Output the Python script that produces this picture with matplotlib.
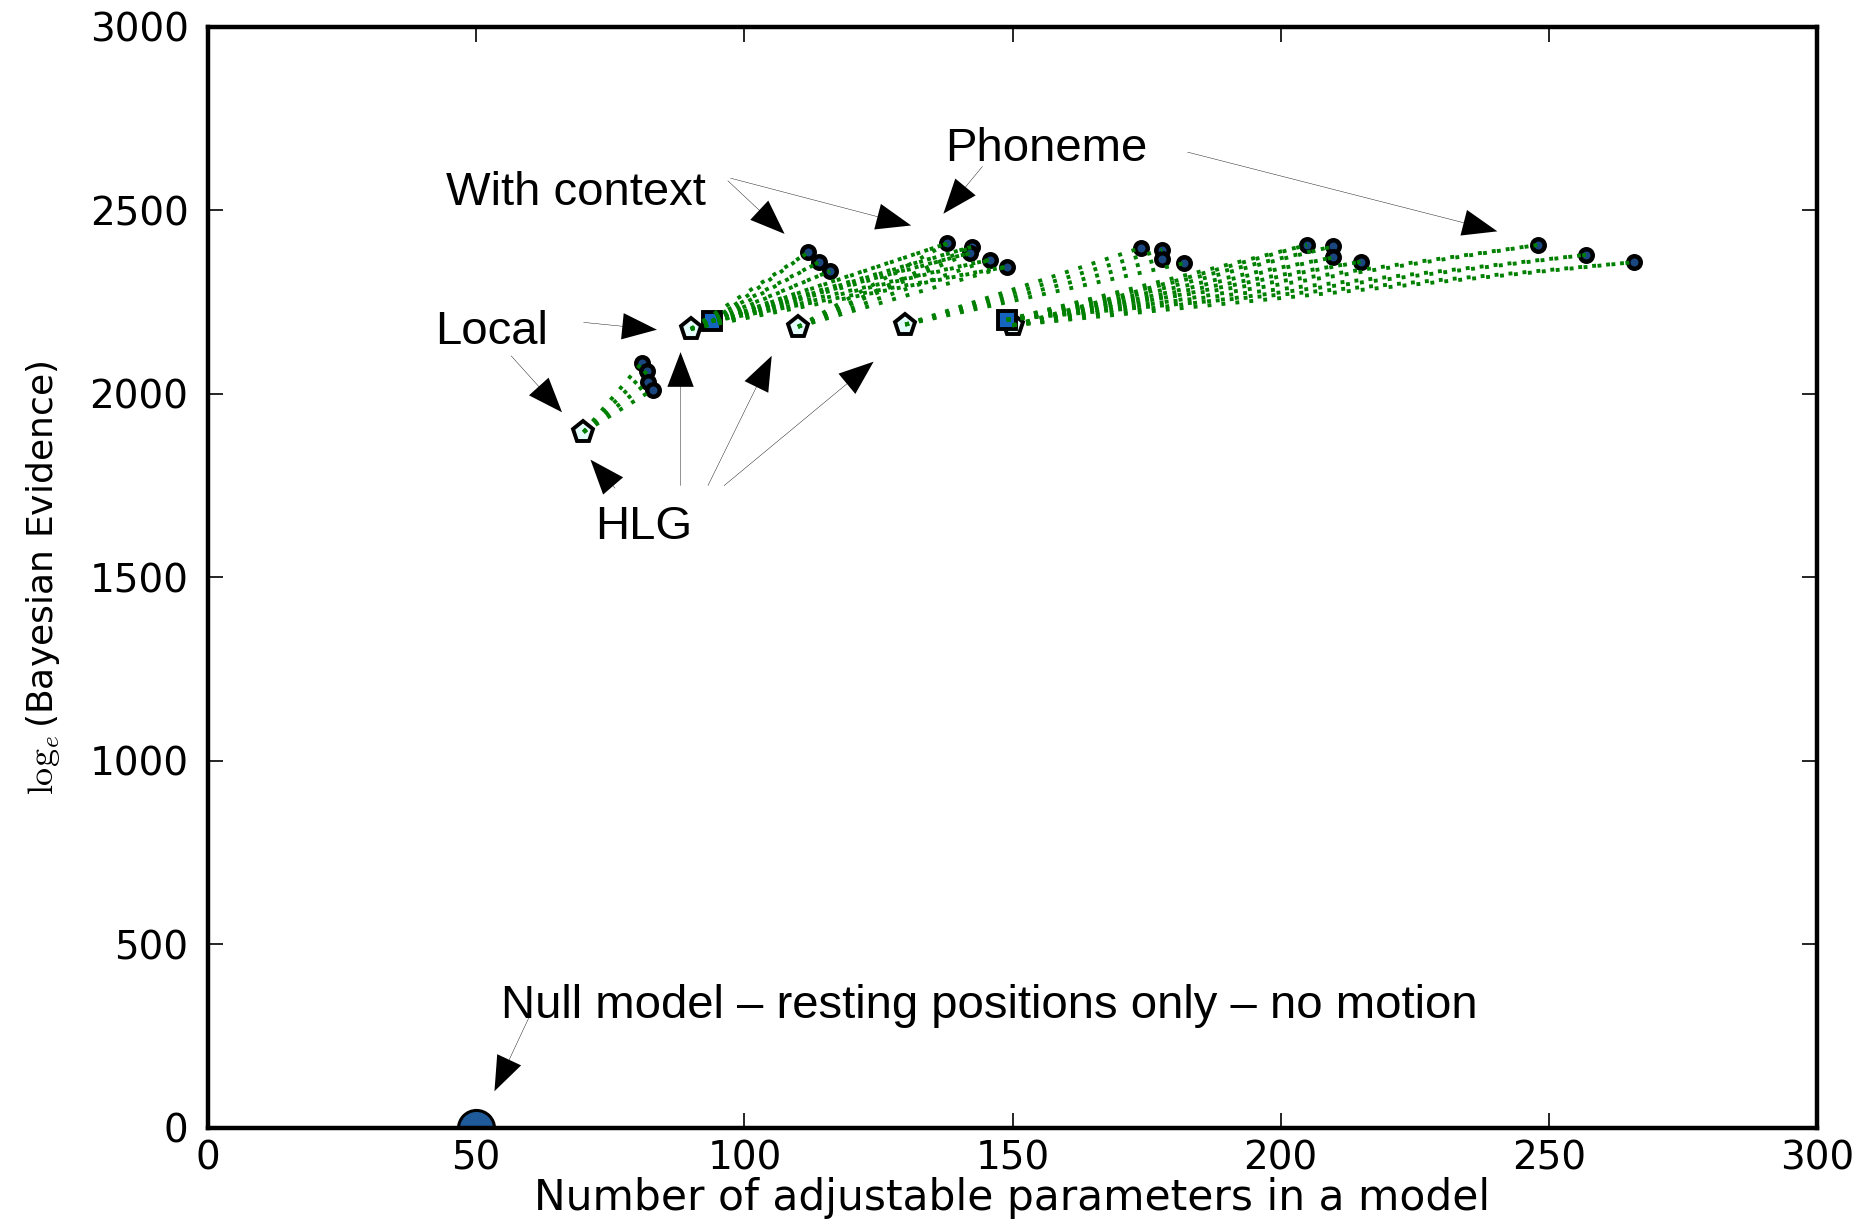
import matplotlib
matplotlib.use("Agg")
import matplotlib.pyplot as plt

# ---------------- data ----------------
hlg_x = [70, 90, 110, 130, 150]
hlg_y = [1896, 2177, 2183, 2189, 2187]

local_x = [93.9, 148.9]
local_y = [2198, 2202]

grpA_x = [80.9, 81.8, 82.1, 83.0]
grpA_y = [2085, 2062, 2032, 2012]
grpB_x = [111.9, 114.0, 116.0]
grpB_y = [2386, 2360, 2335]
grpC_x = [137.8, 142.4, 142.0, 145.8, 148.9]
grpC_y = [2410, 2401, 2384, 2366, 2347]
grpD_x = [173.9, 177.9, 177.9, 181.9]
grpD_y = [2398, 2393, 2368, 2356]
grpE_x = [204.9, 209.8, 209.8, 214.9]
grpE_y = [2406, 2402, 2372, 2360]
grpF_x = [247.9, 256.9, 265.8]
grpF_y = [2406, 2379, 2359]

null_x = [50]
null_y = [0]

# which base model connects to which group of extended models
links = [
    ("hlg", 0, "A"),
    ("hlg", 1, "B"), ("local", 0, "B"),
    ("hlg", 1, "C"), ("local", 0, "C"), ("hlg", 2, "C"),
    ("hlg", 3, "D"),
    ("hlg", 4, "E"), ("local", 1, "E"),
    ("hlg", 4, "F"), ("local", 1, "F"),
]

x_ticks = [0, 50, 100, 150, 200, 250, 300]
y_ticks = [0, 500, 1000, 1500, 2000, 2500, 3000]

# annotations: label, text position (x, baseline y), arrows [(tail, tip)]
annotations = [
    ("Phoneme", (137.5, 2636),
     [((144.4, 2620), (137.1, 2491)), ((182.6, 2659), (240.4, 2443))]),
    ("With context", (44.4, 2514),
     [((96.9, 2581), (107.5, 2436)), ((97.4, 2588), (131.1, 2459))]),
    ("Local", (42.4, 2137),
     [((56.5, 2104), (66.0, 1950)), ((70.0, 2195), (83.7, 2175))]),
    ("HLG", (72.2, 1605),
     [((75.9, 1743), (71.3, 1821)), ((88.1, 1750), (88.1, 2114)),
      ((93.2, 1750), (105.1, 2104)), ((96.2, 1750), (124.1, 2088))]),
    ("Null model \u2013 resting positions only \u2013 no motion", (54.7, 300),
     [((59.8, 300), (53.4, 100))]),
]

# ---------------- plot ----------------
plt.rcParams["mathtext.fontset"] = "cm"
plt.rcParams["font.family"] = ["DejaVu Sans"]

fig = plt.figure(figsize=(18.56, 12.19), dpi=100)
ax = fig.add_axes([0.1121, 0.0747, 0.8669, 0.9032])

groups = {
    "A": (grpA_x, grpA_y), "B": (grpB_x, grpB_y), "C": (grpC_x, grpC_y),
    "D": (grpD_x, grpD_y), "E": (grpE_x, grpE_y), "F": (grpF_x, grpF_y),
}
starts = {"hlg": (hlg_x, hlg_y), "local": (local_x, local_y)}

green = "#008000"
for kind, idx, g in links:
    sx, sy = starts[kind][0][idx], starts[kind][1][idx]
    gx, gy = groups[g]
    for ex, ey in zip(gx, gy):
        ax.plot([sx, ex], [sy, ey], color=green, lw=2.8,
                linestyle=(0, (1, 2.6)), zorder=4,
                dash_capstyle="butt")

for g in groups.values():
    ax.plot(g[0], g[1], "o", ms=9, mfc="#1a477f", mec="black", mew=3.2,
            ls="none", zorder=3)

ax.plot(hlg_x, hlg_y, "p", ms=15.5, mfc="#e4fbfb", mec="black", mew=2.8,
        ls="none", zorder=3)
ax.plot(local_x, local_y, "s", ms=12.5, mfc="#1565c0", mec="black", mew=2.8,
        ls="none", zorder=3.5)
ax.plot(null_x, null_y, "o", ms=26, mfc="#1f5a9a", mec="black", mew=2.2,
        ls="none", zorder=3)

ax.set_xlim(0, 300)
ax.set_ylim(0, 3000)
ax.set_xticks(x_ticks)
ax.set_yticks(y_ticks)
ax.tick_params(direction="in", length=11, width=1.2, top=True, right=True,
               labelsize=28, pad=14, zorder=5)
ax.tick_params(axis="x", pad=8)
for sp in ax.spines.values():
    sp.set_linewidth(3.2)
    sp.set_zorder(6)

ax.set_xlabel("Number of adjustable parameters in a model", fontsize=30.5,
              labelpad=0)
ax.set_ylabel(r"$\log_e$(Bayesian Evidence)", fontsize=26, labelpad=20)

for label, (tx, ty), arrows in annotations:
    ax.text(tx, ty, label, fontsize=34, family=["Liberation Sans", "DejaVu Sans"],
            ha="left", va="baseline", zorder=7)
    for tail, tip in arrows:
        ax.annotate("", xy=tip, xytext=tail, zorder=7,
                    arrowprops=dict(facecolor="black", edgecolor="black",
                                    linewidth=0, width=0.3, headwidth=19,
                                    headlength=25, shrink=0.0))

fig.savefig("out.png", dpi=100)
